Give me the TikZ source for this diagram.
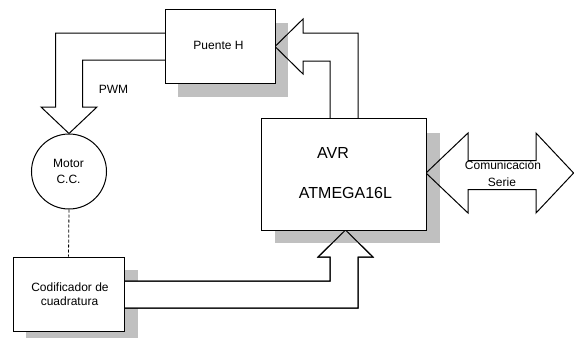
\documentclass[tikz,border=0pt]{standalone}
\usepackage{fontspec}
\setmainfont{Liberation Sans}
\definecolor{shadowc}{HTML}{C0C0C0}
\definecolor{linec}{HTML}{000000}
\tikzset{
  boxn/.style={draw=linec, line width=1pt, fill=white, inner sep=0pt},
  shadowfill/.style={fill=shadowc},
  blockarrow/.style={draw=linec, line width=1pt, line join=miter},
  lbl/.style={inner sep=0pt, font=\fontsize{12}{14}\selectfont},
  biglbl/.style={inner sep=0pt, font=\fontsize{16}{19}\selectfont},
}
\begin{document}
\begin{tikzpicture}[x=1pt,y=-1pt]
\useasboundingbox (0,0) rectangle (574,338);
% shadow of encoder, then its (white) arrow body
\fill[shadowfill] (26,270) rectangle (137.5,338);
\filldraw[blockarrow, fill=white] (124,281) -- (330,281) -- (330,257) -- (318,257) -- (345.5,230) -- (373,257) -- (358,257) -- (358,308) -- (124,308);
% other shadows
\fill[shadowfill] (178,23) rectangle (288,97);
\fill[shadowfill] (275,133) rectangle (440,243);
% block arrows (outlines)
\draw[blockarrow] (124,281) -- (330,281) -- (330,257) -- (318,257) -- (345.5,230) -- (373,257) -- (358,257) -- (358,308) -- (124,308);
\draw[blockarrow] (165,33) -- (55.5,33) -- (55.5,107) -- (41,107) -- (69,133.5) -- (97,107) -- (82.5,107) -- (82.5,60) -- (165,60);
\draw[blockarrow] (330,118) -- (330,61) -- (303,61) -- (303,74) -- (275,46.5) -- (303,19) -- (303,33) -- (358,33) -- (358,118);
\draw[blockarrow] (426,173) -- (468,133) -- (468,160.5) -- (536,160.5) -- (536,133) -- (573.6,173) -- (536,213) -- (536,189.5) -- (468,189.5) -- (468,213) -- cycle;
% boxes
\node[boxn, minimum width=110pt, minimum height=74pt] (puente) at (220,46) {};
\node[boxn, minimum width=165pt, minimum height=112pt] (avr) at (343.5,174) {};
\node[boxn, minimum width=111pt, minimum height=74pt] (cod) at (68.5,294) {};
\node[boxn, circle, minimum size=75pt] (motor) at (69,171.5) {};
% dashed link
\draw[linec, line width=0.8pt, dash pattern=on 3pt off 2pt] (motor.south) -- (cod.north);
% texts
\node[lbl] (tpuente) at (218.5,45.5) {Puente H};
\node[lbl] (tpwm) at (113.5,89) {PWM};
\node[lbl] (tmotor1) at (68.5,163) {Motor};
\node[lbl] (tmotor2) at (68.5,179) {C.C.};
\node[lbl] (tcod1) at (70,287) {Codificador de};
\node[lbl] (tcod2) at (69.5,301) {cuadratura};
\node[biglbl] (tavr1) at (333,153) {AVR};
\node[biglbl] (tavr2) at (345.5,193) {ATMEGA16L};
\node[lbl] (tcom1) at (503,165) {Comunicación};
\node[lbl] (tcom2) at (502,182) {Serie};
\end{tikzpicture}
\end{document}
